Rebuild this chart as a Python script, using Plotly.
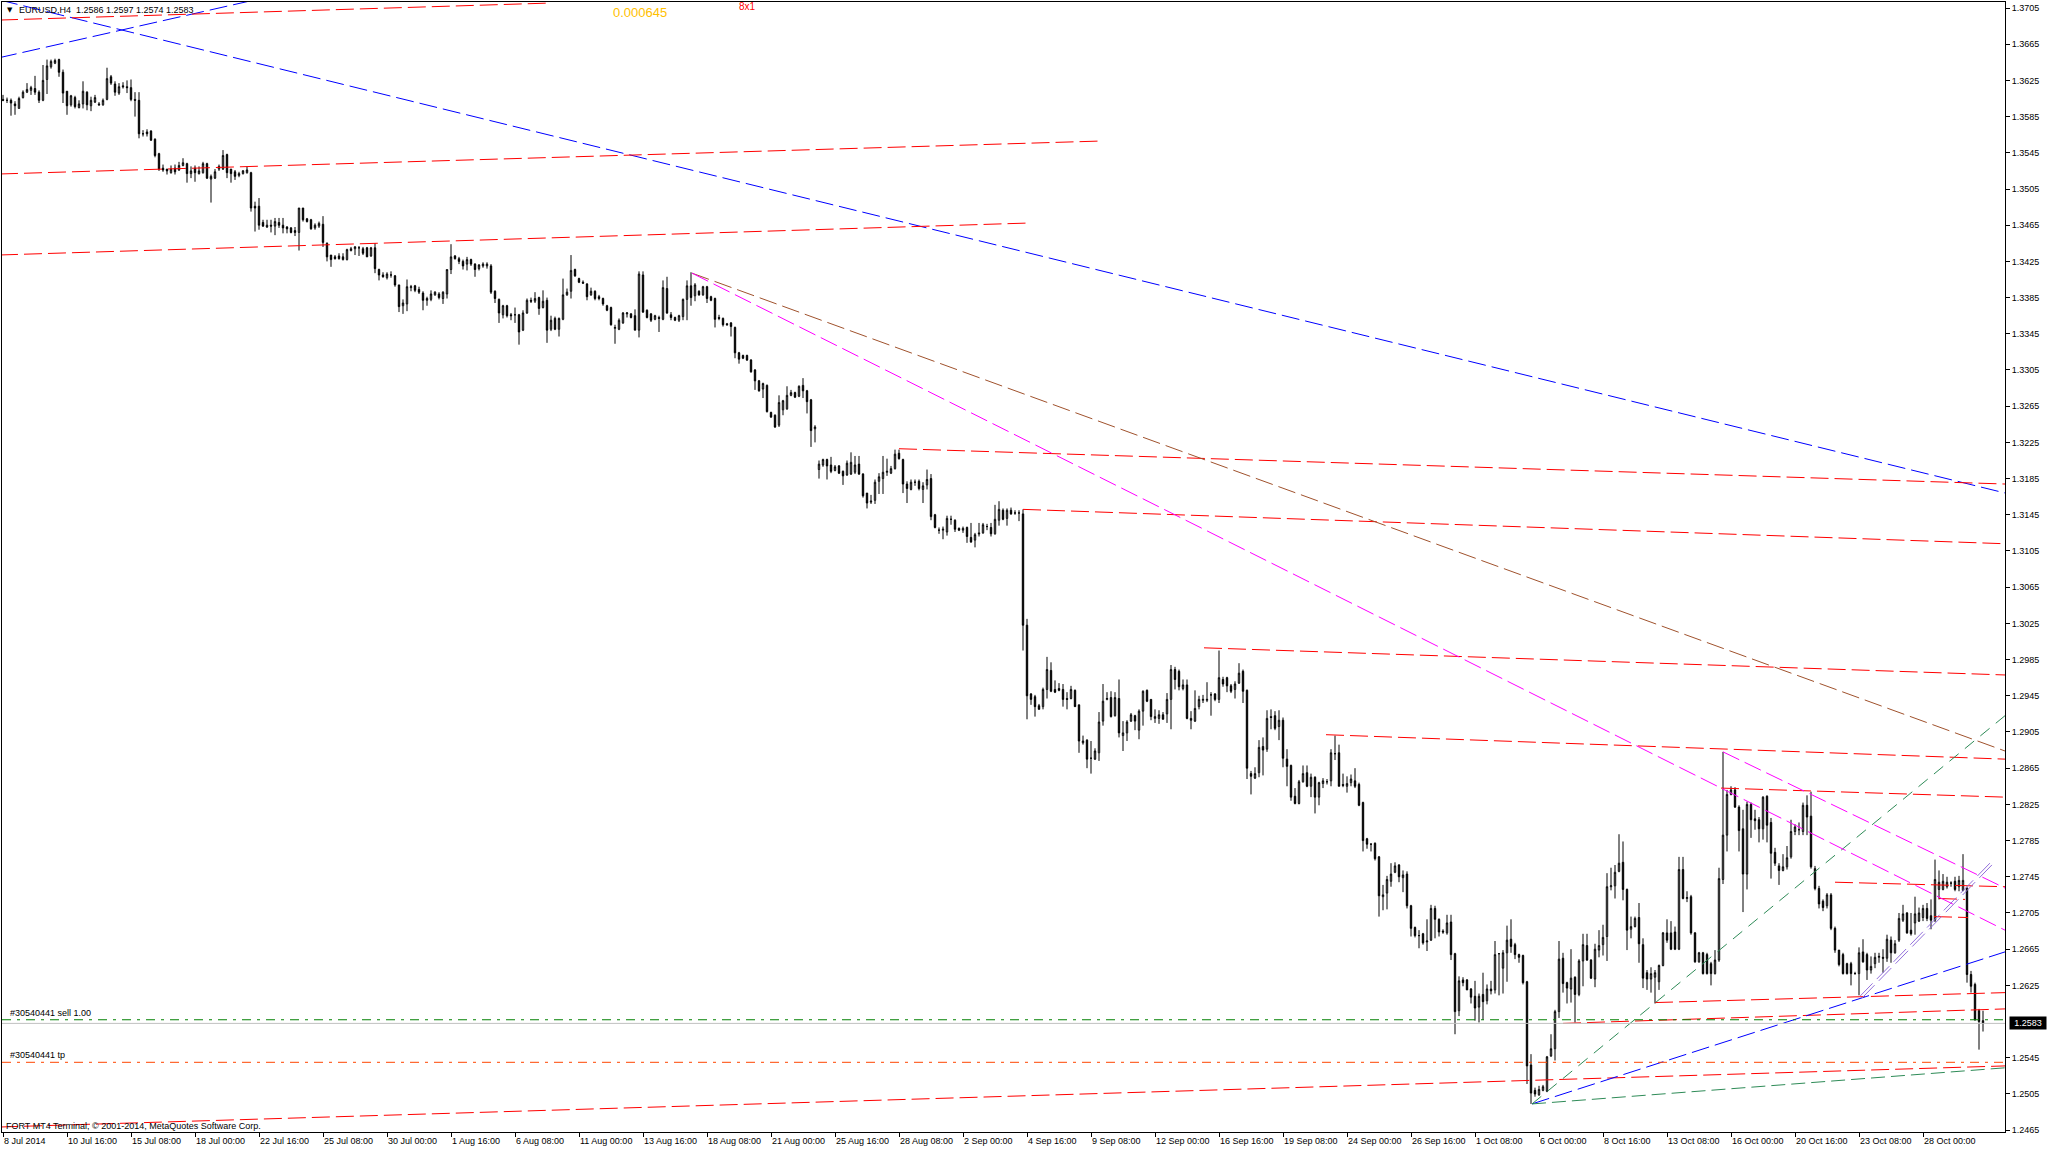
import plotly.graph_objects as go

symbol = "EURUSD,H4"

time_labels = ["8 Jul 2014", "10 Jul 16:00", "15 Jul 08:00", "18 Jul 00:00", "22 Jul 16:00",
               "25 Jul 08:00", "30 Jul 00:00", "1 Aug 16:00", "6 Aug 08:00", "11 Aug 00:00",
               "13 Aug 16:00", "18 Aug 08:00", "21 Aug 00:00", "25 Aug 16:00", "28 Aug 08:00",
               "2 Sep 00:00", "4 Sep 16:00", "9 Sep 08:00", "12 Sep 00:00", "16 Sep 16:00",
               "19 Sep 08:00", "24 Sep 00:00", "26 Sep 16:00", "1 Oct 08:00", "6 Oct 00:00",
               "8 Oct 16:00", "13 Oct 08:00", "16 Oct 00:00", "20 Oct 16:00", "23 Oct 08:00",
               "28 Oct 00:00"]
time_label_bars = list(range(0, 481, 16))

price_labels = ["1.3705", "1.3665", "1.3625", "1.3585", "1.3545", "1.3505", "1.3465", "1.3425",
                "1.3385", "1.3345", "1.3305", "1.3265", "1.3225", "1.3185", "1.3145", "1.3105",
                "1.3065", "1.3025", "1.2985", "1.2945", "1.2905", "1.2865", "1.2825", "1.2785",
                "1.2745", "1.2705", "1.2665", "1.2625", "1.2545", "1.2505", "1.2465"]

opens = [
    1.3604,1.3603,1.3603,1.3599,1.3594,1.3606,1.3612,1.3614,1.3616,1.3612,
    1.3603,1.3626,1.3640,1.3644,1.3648,1.3634,1.3613,1.3598,1.3606,1.3595,
    1.3599,1.3612,1.3597,1.3601,1.3599,1.3598,1.3604,1.3629,1.3621,1.3611,
    1.3619,1.3618,1.3617,1.3604,1.3603,1.3566,1.3568,1.3569,1.3560,1.3544,
    1.3528,1.3527,1.3523,1.3528,1.3526,1.3531,1.3533,1.3522,1.3528,1.3522,
    1.3523,1.3533,1.3516,1.3517,1.3527,1.3527,1.3543,1.3527,1.3524,1.3520,
    1.3522,1.3523,1.3523,1.3486,1.3486,1.3468,1.3463,1.3465,1.3464,1.3468,
    1.3465,1.3463,1.3462,1.3459,1.3457,1.3484,1.3472,1.3471,1.3462,1.3464,
    1.3466,1.3445,1.3432,1.3430,1.3431,1.3430,1.3427,1.3437,1.3439,1.3440,
    1.3439,1.3440,1.3431,1.3440,1.3416,1.3410,1.3407,1.3410,1.3409,1.3399,
    1.3376,1.3378,
    1.3396,1.3398,1.3394,1.3390,1.3382,1.3383,1.3388,1.3389,1.3384,1.3389,
    1.3416,1.3431,1.3428,1.3425,1.3422,1.3427,1.3422,1.3417,1.3420,1.3420,
    1.3420,1.3392,1.3383,1.3366,1.3376,1.3366,1.3366,1.3366,1.3349,1.3368,
    1.3382,1.3381,1.3385,1.3374,1.3382,1.3350,1.3362,1.3350,1.3361,1.3388,
    1.3392,1.3416,1.3406,1.3402,1.3400,1.3388,1.3392,1.3386,1.3384,1.3376,
    1.3374,1.3351,1.3350,1.3357,1.3367,1.3367,1.3365,1.3349,1.3410,1.3371,
    1.3367,1.3361,1.3363,1.3361,1.3395,1.3366,1.3363,1.3360,1.3364,1.3383,
    1.3398,1.3387,1.3392,1.3388,1.3397,1.3386,1.3384,1.3363,1.3362,1.3356,
    1.3357,1.3352,1.3324,1.3321,1.3321,1.3316,1.3305,1.3293,1.3284,1.3288,
    1.3258,1.3255,1.3244,1.3261,1.3262,1.3277,1.3280,1.3276,1.3288,1.3282,
    1.3272,1.3240,
    1.3195,1.3200,1.3206,1.3200,1.3194,1.3199,1.3193,1.3189,1.3190,1.3192,
    1.3201,1.3190,1.3169,1.3159,1.3161,1.3182,1.3185,1.3192,1.3191,1.3196,
    1.3213,1.3206,1.3179,1.3173,1.3181,1.3182,1.3173,1.3178,1.3185,1.3145,
    1.3128,1.3128,1.3126,1.3140,1.3139,1.3130,1.3128,1.3131,1.3120,1.3117,
    1.3125,1.3125,1.3132,1.3131,1.3124,1.3139,1.3150,1.3141,1.3150,1.3147,
    1.3147,1.3146,1.3023,1.2947,1.2944,1.2934,1.2933,1.2952,1.2973,1.2952,
    1.2953,1.2952,1.2942,1.2942,1.2951,1.2935,1.2893,1.2896,1.2876,1.2875,
    1.2882,1.2917,1.2941,1.2943,1.2923,1.2942,1.2901,1.2904,1.2917,1.2923,
    1.2907,1.2928,1.2951,1.2941,1.2920,1.2920,1.2924,1.2925,1.2941,1.2974,
    1.2972,1.2953,1.2957,1.2920,1.2917,1.2933,1.2940,1.2940,1.2946,1.2947,
    1.2941,1.2963,1.2965,
    1.2956,1.2952,1.2959,1.2972,1.2951,1.2859,1.2854,1.2860,1.2889,1.2886,
    1.2922,1.2923,1.2911,1.2918,1.2875,1.2868,1.2834,1.2826,1.2850,1.2860,
    1.2845,1.2855,1.2833,1.2848,1.2850,1.2851,1.2881,1.2882,1.2847,1.2845,
    1.2849,1.2851,1.2847,1.2827,1.2787,1.2781,1.2782,1.2767,1.2723,1.2727,
    1.2740,1.2750,1.2758,1.2744,1.2748,1.2713,1.2689,1.2680,1.2682,1.2673,
    1.2675,1.2710,1.2698,1.2685,1.2683,1.2695,1.2660,1.2597,1.2631,1.2631,
    1.2621,1.2613,1.2601,1.2615,1.2608,1.2621,1.2620,1.2660,1.2644,1.2661,
    1.2676,1.2670,1.2659,1.2658,1.2629,1.2537,1.2509,1.2504,1.2509,1.2508,
    1.2547,1.2555,1.2596,1.2655,1.2628,1.2621,1.2634,1.2615,1.2652,1.2669,
    1.2653,1.2632,1.2664,1.2670,1.2679,1.2734,1.2735,1.2751,1.2761,1.2731,
    1.2687,1.2690,
    1.2700,1.2670,1.2639,1.2632,1.2634,1.2629,1.2647,1.2683,1.2683,1.2684,
    1.2665,1.2753,1.2721,1.2723,1.2683,1.2651,1.2661,1.2659,1.2649,1.2638,
    1.2653,1.2742,1.2791,1.2836,1.2841,1.2822,1.2798,1.2748,1.2825,1.2809,
    1.2808,1.2798,1.2834,1.2805,1.2772,1.2757,1.2752,1.2756,1.2767,1.2795,
    1.2797,1.2795,1.2824,1.2812,1.2754,1.2732,1.2718,1.2713,1.2725,1.2688,
    1.2664,1.2659,1.2649,1.2649,1.2638,1.2638,1.2662,1.2659,1.2642,1.2649,
    1.2656,1.2656,1.2655,1.2675,1.2661,1.2675,1.2697,1.2705,1.2686,1.2694,
    1.2696,1.2700,1.2710,1.2702,1.2697,1.2731,1.2731,1.2734,1.2738,1.2740,
    1.2734,1.2730,1.2732,1.2637,1.2626,1.2597,1.2586,
]

highs = [
    1.3609,1.3606,1.3605,1.3602,1.3607,1.3614,1.3622,1.3619,1.3630,1.3614,
    1.3642,1.3648,1.3648,1.3649,1.3649,1.3637,1.3613,1.3609,1.3608,1.3603,
    1.3624,1.3613,1.3607,1.3609,1.3601,1.3605,1.3639,1.3631,1.3624,1.3622,
    1.3623,1.3625,1.3626,1.3612,1.3612,1.3570,1.3571,1.3570,1.3561,1.3545,
    1.3532,1.3527,1.3531,1.3532,1.3535,1.3539,1.3534,1.3530,1.3531,1.3530,
    1.3535,1.3534,1.3521,1.3527,1.3532,1.3548,1.3544,1.3527,1.3526,1.3524,
    1.3526,1.3530,1.3524,1.3491,1.3495,1.3471,1.3471,1.3471,1.3473,1.3473,
    1.3473,1.3464,1.3463,1.3463,1.3484,1.3484,1.3473,1.3472,1.3467,1.3469,
    1.3475,1.3446,1.3432,1.3432,1.3434,1.3434,1.3439,1.3441,1.3442,1.3442,
    1.3441,1.3441,1.3441,1.3445,1.3417,1.3413,1.3413,1.3414,1.3410,1.3399,
    1.3383,1.3405,
    1.3399,1.3399,1.3397,1.3392,1.3386,1.3393,1.3392,1.3391,1.3392,1.3416,
    1.3444,1.3432,1.3430,1.3427,1.3430,1.3428,1.3423,1.3422,1.3424,1.3424,
    1.3422,1.3393,1.3384,1.3377,1.3377,1.3368,1.3374,1.3367,1.3371,1.3384,
    1.3385,1.3391,1.3386,1.3393,1.3385,1.3365,1.3364,1.3363,1.3406,1.3395,
    1.3432,1.3417,1.3407,1.3404,1.3401,1.3396,1.3393,1.3388,1.3385,1.3377,
    1.3375,1.3355,1.3362,1.3369,1.3369,1.3368,1.3372,1.3414,1.3414,1.3372,
    1.3368,1.3366,1.3365,1.3404,1.3408,1.3369,1.3364,1.3366,1.3384,1.3404,
    1.3413,1.3401,1.3393,1.3398,1.3398,1.3387,1.3385,1.3366,1.3363,1.3357,
    1.3358,1.3353,1.3325,1.3322,1.3322,1.3317,1.3306,1.3294,1.3291,1.3289,
    1.3259,1.3256,1.3277,1.3272,1.3287,1.3283,1.3281,1.3288,1.3296,1.3283,
    1.3273,1.3244,
    1.3205,1.3207,1.3207,1.3209,1.3200,1.3200,1.3194,1.3205,1.3214,1.3210,
    1.3210,1.3191,1.3169,1.3167,1.3184,1.3191,1.3210,1.3207,1.3199,1.3217,
    1.3217,1.3207,1.3182,1.3184,1.3184,1.3184,1.3181,1.3195,1.3190,1.3146,
    1.3131,1.3132,1.3144,1.3144,1.3140,1.3131,1.3132,1.3132,1.3136,1.3125,
    1.3136,1.3136,1.3135,1.3136,1.3156,1.3160,1.3152,1.3152,1.3153,1.3150,
    1.3150,1.3151,1.3030,1.2948,1.2946,1.2936,1.2954,1.2988,1.2982,1.2962,
    1.2959,1.2958,1.2949,1.2956,1.2952,1.2935,1.2901,1.2897,1.2895,1.2887,
    1.2927,1.2958,1.2949,1.2950,1.2949,1.2963,1.2917,1.2918,1.2926,1.2924,
    1.2930,1.2951,1.2952,1.2941,1.2930,1.2929,1.2927,1.2948,1.2979,1.2977,
    1.2974,1.2963,1.2963,1.2928,1.2951,1.2945,1.2946,1.2960,1.2949,1.2948,
    1.2995,1.2966,1.2966,
    1.2958,1.2961,1.2981,1.2974,1.2952,1.2862,1.2866,1.2896,1.2899,1.2929,
    1.2930,1.2928,1.2929,1.2921,1.2886,1.2869,1.2843,1.2852,1.2868,1.2868,
    1.2859,1.2856,1.2850,1.2854,1.2853,1.2886,1.2901,1.2891,1.2859,1.2856,
    1.2858,1.2865,1.2849,1.2828,1.2788,1.2782,1.2783,1.2768,1.2736,1.2746,
    1.2760,1.2761,1.2759,1.2752,1.2751,1.2714,1.2690,1.2686,1.2683,1.2698,
    1.2714,1.2713,1.2699,1.2687,1.2703,1.2703,1.2661,1.2635,1.2634,1.2632,
    1.2622,1.2630,1.2616,1.2639,1.2626,1.2630,1.2674,1.2660,1.2664,1.2691,
    1.2698,1.2672,1.2660,1.2659,1.2630,1.2549,1.2512,1.2514,1.2515,1.2547,
    1.2571,1.2598,1.2674,1.2661,1.2629,1.2665,1.2635,1.2654,1.2682,1.2682,
    1.2654,1.2671,1.2686,1.2692,1.2749,1.2755,1.2758,1.2792,1.2784,1.2732,
    1.2701,1.2701,
    1.2716,1.2677,1.2642,1.2645,1.2642,1.2648,1.2684,1.2698,1.2696,1.2690,
    1.2767,1.2767,1.2729,1.2725,1.2684,1.2662,1.2662,1.2661,1.2651,1.2664,
    1.2755,1.2883,1.2841,1.2845,1.2844,1.2824,1.2819,1.2828,1.2827,1.2819,
    1.2811,1.2834,1.2835,1.2810,1.2777,1.2760,1.2770,1.2779,1.2808,1.2803,
    1.2805,1.2827,1.2835,1.2839,1.2757,1.2735,1.2720,1.2727,1.2727,1.2690,
    1.2664,1.2661,1.2650,1.2651,1.2640,1.2667,1.2676,1.2661,1.2657,1.2661,
    1.2661,1.2665,1.2681,1.2679,1.2675,1.2705,1.2714,1.2706,1.2705,1.2723,
    1.2711,1.2714,1.2716,1.2720,1.2764,1.2752,1.2748,1.2745,1.2740,1.2745,
    1.2746,1.2770,1.2734,1.2641,1.2628,1.2599,1.2597,
]

lows = [
    1.3602,1.3600,1.3586,1.3587,1.3594,1.3605,1.3611,1.3609,1.3609,1.3600,
    1.3602,1.3610,1.3638,1.3643,1.3629,1.3600,1.3587,1.3596,1.3594,1.3594,
    1.3594,1.3592,1.3591,1.3600,1.3597,1.3597,1.3603,1.3620,1.3608,1.3609,
    1.3616,1.3611,1.3602,1.3585,1.3561,1.3563,1.3563,1.3558,1.3540,1.3525,
    1.3524,1.3521,1.3522,1.3521,1.3525,1.3530,1.3512,1.3517,1.3513,1.3521,
    1.3522,1.3516,1.3490,1.3516,1.3525,1.3526,1.3517,1.3512,1.3515,1.3518,
    1.3521,1.3522,1.3480,1.3458,1.3460,1.3463,1.3462,1.3457,1.3454,1.3462,
    1.3456,1.3456,1.3456,1.3453,1.3437,1.3469,1.3468,1.3460,1.3460,1.3462,
    1.3441,1.3425,1.3419,1.3427,1.3427,1.3426,1.3426,1.3436,1.3432,1.3431,
    1.3432,1.3430,1.3430,1.3412,1.3404,1.3407,1.3405,1.3407,1.3397,1.3369,
    1.3367,1.3370,
    1.3392,1.3391,1.3389,1.3371,1.3376,1.3381,1.3387,1.3383,1.3378,1.3384,
    1.3411,1.3427,1.3422,1.3416,1.3415,1.3420,1.3408,1.3415,1.3418,1.3417,
    1.3389,1.3379,1.3357,1.3362,1.3363,1.3360,1.3357,1.3333,1.3348,1.3367,
    1.3379,1.3379,1.3366,1.3373,1.3335,1.3348,1.3349,1.3342,1.3360,1.3387,
    1.3384,1.3408,1.3401,1.3400,1.3382,1.3387,1.3382,1.3382,1.3376,1.3370,
    1.3354,1.3334,1.3349,1.3356,1.3363,1.3362,1.3349,1.3341,1.3368,1.3362,
    1.3358,1.3360,1.3347,1.3360,1.3367,1.3360,1.3359,1.3358,1.3360,1.3360,
    1.3376,1.3381,1.3387,1.3387,1.3379,1.3381,1.3352,1.3360,1.3353,1.3354,
    1.3342,1.3318,1.3312,1.3317,1.3315,1.3302,1.3283,1.3281,1.3274,1.3258,
    1.3252,1.3241,1.3242,1.3255,1.3261,1.3276,1.3274,1.3275,1.3274,1.3257,
    1.3220,1.3225,
    1.3185,1.3198,1.3184,1.3191,1.3193,1.3190,1.3178,1.3188,1.3189,1.3190,
    1.3189,1.3164,1.3152,1.3157,1.3157,1.3168,1.3168,1.3188,1.3190,1.3195,
    1.3206,1.3169,1.3158,1.3172,1.3177,1.3172,1.3158,1.3173,1.3139,1.3130,
    1.3124,1.3118,1.3122,1.3134,1.3126,1.3127,1.3125,1.3114,1.3114,1.3109,
    1.3121,1.3124,1.3128,1.3121,1.3123,1.3133,1.3139,1.3133,1.3145,1.3145,
    1.3138,1.2995,1.2919,1.2935,1.2922,1.2930,1.2930,1.2942,1.2949,1.2948,
    1.2950,1.2933,1.2930,1.2941,1.2933,1.2882,1.2891,1.2865,1.2859,1.2874,
    1.2873,1.2912,1.2940,1.2921,1.2922,1.2899,1.2884,1.2895,1.2916,1.2907,
    1.2897,1.2912,1.2938,1.2918,1.2915,1.2914,1.2919,1.2915,1.2908,1.2952,
    1.2951,1.2951,1.2919,1.2908,1.2916,1.2930,1.2937,1.2938,1.2923,1.2939,
    1.2937,1.2955,1.2949,
    1.2948,1.2942,1.2958,1.2937,1.2853,1.2836,1.2853,1.2855,1.2857,1.2883,
    1.2908,1.2907,1.2896,1.2866,1.2845,1.2829,1.2825,1.2825,1.2849,1.2844,
    1.2833,1.2815,1.2824,1.2843,1.2847,1.2845,1.2874,1.2845,1.2844,1.2838,
    1.2845,1.2843,1.2823,1.2773,1.2776,1.2773,1.2763,1.2701,1.2708,1.2709,
    1.2734,1.2749,1.2739,1.2728,1.2710,1.2679,1.2678,1.2666,1.2670,1.2663,
    1.2674,1.2677,1.2679,1.2682,1.2681,1.2653,1.2571,1.2591,1.2624,1.2620,
    1.2605,1.2586,1.2584,1.2587,1.2604,1.2615,1.2616,1.2614,1.2616,1.2629,
    1.2661,1.2654,1.2650,1.2626,1.2516,1.2494,1.2502,1.2503,1.2508,1.2507,
    1.2546,1.2542,1.2589,1.2617,1.2605,1.2606,1.2584,1.2613,1.2624,1.2652,
    1.2632,1.2623,1.2656,1.2658,1.2652,1.2730,1.2721,1.2750,1.2719,1.2664,
    1.2677,1.2689,
    1.2650,1.2622,1.2620,1.2617,1.2605,1.2620,1.2646,1.2672,1.2664,1.2664,
    1.2664,1.2720,1.2717,1.2681,1.2650,1.2650,1.2637,1.2637,1.2625,1.2637,
    1.2651,1.2737,1.2773,1.2835,1.2821,1.2773,1.2706,1.2731,1.2788,1.2797,
    1.2783,1.2786,1.2783,1.2743,1.2757,1.2736,1.2751,1.2753,1.2765,1.2791,
    1.2791,1.2791,1.2791,1.2754,1.2730,1.2710,1.2707,1.2710,1.2686,1.2661,
    1.2646,1.2637,1.2637,1.2625,1.2637,1.2614,1.2650,1.2631,1.2638,1.2644,
    1.2650,1.2639,1.2651,1.2650,1.2660,1.2673,1.2695,1.2682,1.2680,1.2681,
    1.2695,1.2696,1.2696,1.2687,1.2695,1.2720,1.2730,1.2732,1.2734,1.2729,
    1.2729,1.2729,1.2628,1.2617,1.2586,1.2554,1.2574,
]

closes = [
    1.3603,1.3603,1.3600,1.3597,1.3605,1.3612,1.3615,1.3617,1.3612,1.3603,
    1.3625,1.3641,1.3646,1.3647,1.3634,1.3611,1.3597,1.3608,1.3596,1.3599,
    1.3613,1.3598,1.3603,1.3606,1.3598,1.3603,1.3627,1.3622,1.3612,1.3618,
    1.3618,1.3617,1.3604,1.3603,1.3566,1.3566,1.3566,1.3559,1.3542,1.3527,
    1.3526,1.3525,1.3527,1.3524,1.3531,1.3534,1.3522,1.3525,1.3523,1.3525,
    1.3533,1.3517,1.3519,1.3524,1.3530,1.3542,1.3523,1.3522,1.3519,1.3522,
    1.3525,1.3526,1.3484,1.3484,1.3465,1.3464,1.3465,1.3464,1.3469,1.3465,
    1.3462,1.3461,1.3457,1.3457,1.3484,1.3471,1.3469,1.3461,1.3465,1.3467,
    1.3446,1.3430,1.3427,1.3428,1.3428,1.3427,1.3438,1.3439,1.3441,1.3440,
    1.3434,1.3430,1.3440,1.3417,1.3410,1.3408,1.3411,1.3410,1.3399,1.3375,
    1.3379,1.3397,
    1.3397,1.3393,1.3391,1.3382,1.3384,1.3389,1.3391,1.3385,1.3391,1.3416,
    1.3430,1.3428,1.3425,1.3420,1.3427,1.3422,1.3416,1.3421,1.3422,1.3422,
    1.3391,1.3384,1.3368,1.3376,1.3365,1.3365,1.3366,1.3347,1.3368,1.3382,
    1.3381,1.3384,1.3373,1.3381,1.3349,1.3360,1.3350,1.3362,1.3388,1.3391,
    1.3415,1.3409,1.3402,1.3401,1.3386,1.3392,1.3384,1.3384,1.3378,1.3371,
    1.3355,1.3352,1.3360,1.3368,1.3368,1.3363,1.3349,1.3411,1.3369,1.3363,
    1.3360,1.3365,1.3362,1.3396,1.3368,1.3363,1.3360,1.3365,1.3383,1.3398,
    1.3385,1.3399,1.3388,1.3397,1.3384,1.3382,1.3361,1.3362,1.3355,1.3355,
    1.3353,1.3324,1.3317,1.3318,1.3316,1.3303,1.3293,1.3282,1.3290,1.3259,
    1.3253,1.3242,1.3269,1.3271,1.3277,1.3280,1.3275,1.3287,1.3282,1.3270,
    1.3238,1.3242,
    1.3201,1.3206,1.3199,1.3193,1.3198,1.3191,1.3188,1.3202,1.3203,1.3200,
    1.3190,1.3166,1.3158,1.3160,1.3181,1.3187,1.3192,1.3193,1.3196,1.3212,
    1.3207,1.3179,1.3174,1.3181,1.3181,1.3174,1.3177,1.3184,1.3143,1.3131,
    1.3128,1.3129,1.3141,1.3140,1.3129,1.3128,1.3130,1.3121,1.3115,1.3123,
    1.3124,1.3134,1.3132,1.3124,1.3140,1.3151,1.3140,1.3150,1.3146,1.3147,
    1.3147,1.3023,1.2945,1.2941,1.2933,1.2930,1.2952,1.2974,1.2950,1.2949,
    1.2951,1.2941,1.2941,1.2952,1.2933,1.2895,1.2895,1.2875,1.2876,1.2884,
    1.2916,1.2939,1.2942,1.2922,1.2943,1.2904,1.2904,1.2916,1.2924,1.2917,
    1.2928,1.2950,1.2939,1.2922,1.2922,1.2924,1.2919,1.2941,1.2974,1.2963,
    1.2955,1.2957,1.2920,1.2918,1.2931,1.2941,1.2941,1.2941,1.2946,1.2941,
    1.2965,1.2958,1.2956,
    1.2950,1.2958,1.2970,1.2950,1.2865,1.2856,1.2859,1.2888,1.2885,1.2920,
    1.2921,1.2909,1.2918,1.2876,1.2867,1.2833,1.2826,1.2850,1.2859,1.2845,
    1.2855,1.2833,1.2849,1.2851,1.2850,1.2882,1.2881,1.2845,1.2846,1.2848,
    1.2853,1.2845,1.2824,1.2785,1.2781,1.2781,1.2765,1.2724,1.2725,1.2742,
    1.2748,1.2757,1.2745,1.2747,1.2713,1.2688,1.2680,1.2680,1.2672,1.2674,
    1.2710,1.2698,1.2684,1.2684,1.2694,1.2659,1.2596,1.2630,1.2628,1.2620,
    1.2612,1.2600,1.2613,1.2607,1.2621,1.2619,1.2659,1.2660,1.2661,1.2675,
    1.2668,1.2659,1.2656,1.2628,1.2536,1.2506,1.2505,1.2510,1.2513,1.2546,
    1.2555,1.2596,1.2654,1.2627,1.2622,1.2633,1.2615,1.2652,1.2670,1.2653,
    1.2633,1.2665,1.2669,1.2678,1.2734,1.2735,1.2750,1.2760,1.2731,1.2686,
    1.2690,1.2699,
    1.2671,1.2633,1.2632,1.2638,1.2639,1.2647,1.2683,1.2675,1.2665,1.2665,
    1.2753,1.2721,1.2722,1.2683,1.2651,1.2661,1.2638,1.2638,1.2638,1.2653,
    1.2743,1.2791,1.2836,1.2841,1.2822,1.2796,1.2748,1.2825,1.2808,1.2807,
    1.2798,1.2833,1.2802,1.2771,1.2760,1.2752,1.2756,1.2766,1.2795,1.2800,
    1.2797,1.2824,1.2811,1.2756,1.2732,1.2715,1.2711,1.2725,1.2688,1.2664,
    1.2648,1.2638,1.2638,1.2638,1.2638,1.2661,1.2651,1.2642,1.2646,1.2656,
    1.2657,1.2655,1.2676,1.2661,1.2671,1.2699,1.2704,1.2683,1.2682,1.2704,
    1.2705,1.2710,1.2699,1.2697,1.2742,1.2739,1.2740,1.2739,1.2738,1.2731,
    1.2741,1.2741,1.2637,1.2624,1.2587,1.2585,1.2583,
]

# Chart objects (trend lines): bar index / price anchors
trend_x0 = [-0.75, -1.0, -0.75, -0.75, -0.75, 224.0, 255.0, 300.25, 330.75, 429.5, 458.0, 484.0, 482.75,
            413.0, 390.0, -0.75, 382.25, 382.25, 382.25, 172.25, 172.25, 430.0, 464.25, 464.75]
trend_y0 = [1.37138, 1.36500, 1.36917, 1.35216, 1.34321, 1.32180, 1.31510, 1.29980, 1.29020, 1.28430,
            1.27390, 1.27210, 1.27010, 1.26060, 1.25830, 1.24685, 1.24940, 1.24940, 1.24940, 1.34120,
            1.34120, 1.28830, 1.26130, 1.26110]
trend_x1 = [500.5, 80.0, 137.0, 274.5, 256.5, 500.5, 500.5, 500.5, 500.5, 500.5, 500.5, 490.5, 491.25,
            500.5, 500.5, 500.5, 500.5, 500.5, 500.75, 500.5, 500.5, 500.75, 497.0, 497.5]
trend_y1 = [1.31691, 1.37310, 1.37105, 1.35580, 1.34674, 1.31790, 1.31130, 1.29680, 1.28750, 1.28330,
            1.27340, 1.27200, 1.27000, 1.26170, 1.25990, 1.25360, 1.26620, 1.29230, 1.25340, 1.28840,
            1.26860, 1.27320, 1.27613, 1.27593]
trend_colors = ["#0000FF", "#0000FF", "#FF0000", "#FF0000", "#FF0000", "#FF0000", "#FF0000", "#FF0000",
                "#FF0000", "#FF0000", "#FF0000", "#FF0000", "#FF0000", "#FF0000", "#FF0000", "#FF0000",
                "#0000FF", "#2E8B57", "#2E8B57", "#A0522D", "#FF00FF", "#FF00FF", "#9370DB", "#9370DB"]
trend_dash = ["18px,6px"] * 17 + ["12px,8px", "14px,6px"] + ["18px,6px"] * 5

order_ticket = "#30540441"
sell_price = 1.2587
tp_price = 1.2540

FONT = "Liberation Sans, Arial, sans-serif"
PLOT_L, PLOT_R, PLOT_T, PLOT_B = 2, 43, 2, 20
Y_TOP, Y_BOTTOM = 1.371163, 1.246298

n = min(len(opens), len(highs), len(lows), len(closes))
bars = list(range(n))

fig = go.Figure()
fig.add_trace(go.Candlestick(
    x=bars, open=opens[:n], high=highs[:n], low=lows[:n], close=closes[:n],
    increasing=dict(line=dict(color="black", width=1), fillcolor="white"),
    decreasing=dict(line=dict(color="black", width=1), fillcolor="black"),
    whiskerwidth=0, hoverinfo="skip", showlegend=False,
))

shapes = []
for x0, y0, x1, y1, col, dsh in zip(trend_x0, trend_y0, trend_x1, trend_y1, trend_colors, trend_dash):
    shapes.append(dict(type="line", xref="x", yref="y", x0=x0, y0=y0, x1=x1, y1=y1,
                       line=dict(color=col, width=1, dash=dsh), layer="above"))
# bid line, order line and take-profit line
shapes.append(dict(type="line", xref="paper", yref="y", x0=0, x1=1, y0=closes[n - 1], y1=closes[n - 1],
                   line=dict(color="#C0C0C0", width=1), layer="above"))
shapes.append(dict(type="line", xref="paper", yref="y", x0=0, x1=1, y0=sell_price, y1=sell_price,
                   line=dict(color="#008000", width=1, dash="9px,6px,3px,6px"), layer="above"))
shapes.append(dict(type="line", xref="paper", yref="y", x0=0, x1=1, y0=tp_price, y1=tp_price,
                   line=dict(color="#FF4500", width=1, dash="9px,6px,3px,6px"), layer="above"))

plot_w = 2048 - PLOT_L - PLOT_R
plot_h = 1152 - PLOT_T - PLOT_B


def px(xp):
    return (xp - PLOT_L) / plot_w


def py(yp):
    return (1152 - PLOT_B - yp) / plot_h


header = "%s  %.4f %.4f %.4f %.4f" % (symbol, opens[n - 1], highs[n - 1], lows[n - 1], closes[n - 1])

annotations = [
    dict(text="▼", x=px(5), y=py(10), xref="paper", yref="paper", xanchor="left", yanchor="middle",
         showarrow=False, font=dict(family="DejaVu Sans", size=7, color="black")),
    dict(text=header, x=px(17), y=py(10), xref="paper", yref="paper", xanchor="left", yanchor="middle",
         showarrow=False, font=dict(family=FONT, size=9, color="black")),
    dict(text="0.000645", x=px(611), y=py(13), xref="paper", yref="paper", xanchor="left", yanchor="middle",
         showarrow=False, font=dict(family=FONT, size=13, color="#FFC000")),
    dict(text="8x1", x=px(737), y=py(6), xref="paper", yref="paper", xanchor="left", yanchor="middle",
         showarrow=False, font=dict(family=FONT, size=10, color="#FF0000")),
    dict(text="FORT MT4 Terminal, © 2001-2014, MetaQuotes Software Corp.", x=px(4), y=py(1126),
         xref="paper", yref="paper", xanchor="left", yanchor="middle", showarrow=False,
         font=dict(family=FONT, size=9, color="black")),
    dict(text="%s sell 1.00" % order_ticket, x=px(8), y=sell_price, xref="paper", yref="y",
         xanchor="left", yanchor="bottom", yshift=0, showarrow=False,
         font=dict(family=FONT, size=9, color="black")),
    dict(text="%s tp" % order_ticket, x=px(8), y=tp_price, xref="paper", yref="y",
         xanchor="left", yanchor="bottom", yshift=0, showarrow=False,
         font=dict(family=FONT, size=9, color="black")),
    dict(text="%.4f" % closes[n - 1], x=1, y=closes[n - 1], xref="paper", yref="y",
         xanchor="left", yanchor="middle", xshift=4, showarrow=False, bgcolor="black",
         borderpad=1, width=34, align="center",
         font=dict(family=FONT, size=9, color="white")),
]

fig.update_layout(
    width=2048, height=1152,
    margin=dict(l=PLOT_L, r=PLOT_R, t=PLOT_T, b=PLOT_B, pad=0, autoexpand=False),
    paper_bgcolor="white", plot_bgcolor="white",
    boxgap=0.5,
    shapes=shapes, annotations=annotations,
    showlegend=False,
    xaxis=dict(
        range=[-0.25, 500.5], showgrid=False, zeroline=False,
        showline=True, linecolor="black", linewidth=1, mirror=True,
        ticks="outside", ticklen=4, tickcolor="black", tickwidth=1,
        tickvals=time_label_bars, ticktext=time_labels,
        ticklabelposition="outside right",
        tickfont=dict(family=FONT, size=9, color="black"),
        rangeslider=dict(visible=False), fixedrange=True,
    ),
    yaxis=dict(
        range=[Y_BOTTOM, Y_TOP], side="right", showgrid=False, zeroline=False,
        showline=True, linecolor="black", linewidth=1, mirror=True,
        ticks="outside", ticklen=4, tickcolor="black", tickwidth=1,
        tickvals=[float(v) for v in price_labels], ticktext=price_labels,
        tickfont=dict(family=FONT, size=9, color="black"),
        fixedrange=True,
    ),
)

fig.write_html("out.html", config={"displayModeBar": False},
               post_script="document.body.style.margin='0';document.body.style.padding='0';"
                           "document.body.style.overflow='hidden';")
